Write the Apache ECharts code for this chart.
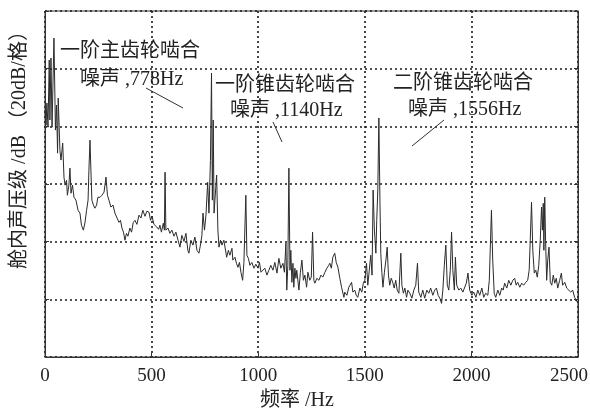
<!DOCTYPE html>
<html>
<head>
<meta charset="utf-8">
<script src="https://cdn.jsdelivr.net/npm/echarts@6/dist/echarts.min.js"></script>
<style>
html,body{margin:0;padding:0;background:#fff;}
#c{width:590px;height:411px;}
</style>
</head>
<body>
<div id="c"></div>
<script>
// Frequency (Hz) and cabin sound pressure level (dB, arbitrary offset, 20 dB per grid)
const freq = [0,5,9,14,20,23,28,33,42,49,54,59,62,70,75,83,89,94,101,105,112,117,122,129,136,145,155,164,171,180,188,195,202,206,211,216,220,227,234,242,248,258,267,277,286,293,300,309,319,328,338,347,354,361,368,375,382,389,398,406,414,422,431,441,450,459,469,478,488,495,502,511,524,533,539,546,555,560,563,567,577,586,595,605,614,624,633,642,652,661,670,675,684,694,703,713,722,729,736,741,748,755,763,769,776,781,785,789,793,797,805,811,816,823,830,839,852,860,867,877,881,891,898,905,912,919,927,933,942,947,954,961,970,980,989,999,1006,1013,1022,1031,1041,1050,1059,1069,1078,1088,1097,1106,1116,1123,1130,1134,1139,1144,1149,1153,1158,1163,1167,1172,1177,1181,1191,1198,1205,1212,1219,1227,1233,1242,1249,1255,1261,1266,1275,1285,1294,1303,1313,1322,1331,1336,1343,1350,1359,1366,1374,1383,1391,1402,1406,1416,1425,1438,1444,1453,1460,1467,1477,1486,1493,1500,1508,1514,1521,1528,1534,1539,1545,1552,1556,1561,1566,1571,1575,1580,1585,1592,1599,1605,1611,1617,1624,1631,1638,1645,1652,1660,1664,1669,1674,1681,1688,1696,1702,1711,1721,1730,1739,1747,1753,1763,1772,1781,1791,1800,1809,1819,1828,1836,1844,1852,1860,1866,1873,1880,1887,1894,1901,1907,1913,1920,1925,1931,1941,1950,1960,1969,1976,1984,1992,2002,2011,2021,2030,2039,2049,2058,2067,2077,2084,2094,2100,2107,2114,2124,2133,2142,2149,2156,2166,2175,2185,2194,2203,2210,2217,2227,2236,2245,2255,2264,2271,2276,2282,2288,2295,2302,2309,2316,2323,2329,2333,2337,2340,2344,2348,2353,2358,2364,2370,2377,2384,2391,2398,2405,2414,2422,2428,2438,2447,2456,2466,2475,2484,2493,2500];
const level = [85.6,80.4,88.1,79.7,103.0,82.2,103.7,79.7,110.6,78.7,87.4,70.7,89.8,71.7,68.3,74.2,62.4,59.6,61.3,56.1,59.6,65.5,56.8,59.6,55.4,54.4,50.9,49.9,45.7,44.0,46.8,50.9,54.4,64.8,75.2,63.1,54.4,52.7,51.6,52.7,55.4,55.4,56.1,57.2,62.4,56.1,54.4,52.0,52.7,49.9,48.2,46.7,47.4,44.7,43.3,40.5,42.9,41.9,44.7,43.3,46.7,47.4,46.0,49.2,48.2,50.9,48.8,50.6,50.2,47.4,48.8,46.0,45.1,44.3,45.7,43.3,46.4,44.0,64.1,44.0,44.7,42.9,44.0,41.9,43.3,40.5,38.1,42.2,40.1,42.9,37.0,36.0,40.5,38.8,41.6,37.0,36.0,38.8,42.2,49.9,44.0,49.2,60.6,49.9,68.2,98.5,54.4,82.2,49.9,54.4,63.1,44.0,38.1,40.5,38.8,40.5,34.6,37.0,35.3,37.7,33.6,34.6,32.5,31.1,32.8,29.4,26.6,32.8,56.1,35.3,34.2,31.8,32.8,30.8,32.2,30.8,32.8,29.4,29.1,30.8,28.4,30.1,31.8,30.1,32.8,29.1,34.2,30.8,32.5,29.4,39.5,23.2,31.8,65.5,30.1,37.0,25.9,32.5,24.2,30.8,27.3,30.1,23.2,29.4,33.6,26.6,28.4,24.2,29.4,26.6,27.7,43.3,26.6,25.6,27.3,26.6,28.4,27.7,29.4,30.8,31.8,32.5,30.8,34.6,36.0,32.8,31.1,27.3,24.2,20.7,22.5,21.4,24.2,25.9,22.5,23.2,21.4,20.7,23.9,22.5,25.6,26.6,32.5,24.9,30.1,35.3,28.4,57.9,44.0,36.0,47.4,57.9,82.9,54.4,36.0,29.4,24.2,29.4,33.6,38.1,28.4,24.9,27.3,25.9,23.9,26.6,23.2,22.1,28.4,36.0,24.9,22.1,23.9,20.7,23.2,22.1,20.4,23.2,24.9,32.5,22.5,20.7,23.2,20.4,23.2,22.1,23.9,21.4,23.2,23.9,21.4,20.4,18.6,23.2,31.8,38.8,24.9,23.2,30.1,43.3,30.1,23.2,34.6,24.9,23.2,23.9,22.5,22.1,25.6,29.1,23.2,21.4,22.5,20.7,23.2,21.4,23.9,20.7,22.1,21.4,26.6,50.9,33.6,22.1,20.7,23.2,21.4,23.9,23.2,25.6,23.9,26.6,24.9,26.6,27.3,24.9,25.9,24.2,25.6,24.9,25.9,26.6,30.1,40.5,53.7,37.0,29.1,30.1,27.7,31.8,40.5,52.0,44.0,53.3,37.0,55.4,40.5,26.6,33.6,38.1,25.9,24.9,28.4,25.6,27.3,23.9,26.6,29.1,24.9,25.9,23.9,24.2,22.5,23.2,20.7,20.4,18.6];
const xTicks = [0, 500, 1000, 1500, 2000, 2500];
const yTitle = '舱内声压级 /dB （20dB/格）';
const xTitle = '频率 /Hz';
const notes = [
  ['一阶主齿轮啮合', '噪声 ,778Hz'],
  ['一阶锥齿轮啮合', '噪声 ,1140Hz'],
  ['二阶锥齿轮啮合', '噪声 ,1556Hz']
];

const FONT = '"Liberation Serif", "Noto Sans CJK SC", serif';
const ink = '#222';
const data = freq.map((f, i) => [f, level[i]]);

const chart = echarts.init(document.getElementById('c'), null, {renderer: 'canvas'});
const dotted = {show: true, lineStyle: {color: '#1a1a1a', type: [2, 3], width: 1.6}};

function txt(x, y, s, rot, align) {
  return {
    type: 'text', x: x, y: y, rotation: rot || 0, z: 10,
    style: {text: s, font: '20px ' + FONT, fill: ink,
      textAlign: align || 'left', textVerticalAlign: 'middle'}
  };
}
function seg(x1, y1, x2, y2) {
  return {type: 'line', z: 10, shape: {x1: x1, y1: y1, x2: x2, y2: y2},
    style: {stroke: '#333', lineWidth: 1}};
}

const lastTick = xTicks[xTicks.length - 1];

chart.setOption({
  backgroundColor: '#fff',
  animation: false,
  grid: {left: 45, right: 12, top: 11, bottom: 54, show: true, borderColor: '#333', borderWidth: 1,
    containLabel: false, outerBoundsMode: 'none'},
  xAxis: {
    type: 'value', min: 0, max: 2500, interval: 500,
    axisLine: {show: true, lineStyle: {color: '#333', width: 1}},
    axisTick: {show: true, inside: true, length: 4, lineStyle: {color: '#333'}},
    axisLabel: {margin: 10, fontSize: 19, fontFamily: FONT, color: ink,
      formatter: v => xTicks.indexOf(v) < 0 ? '' : (v === lastTick ? '{e|' + v + '}' : String(v)),
      rich: {e: {fontSize: 19, fontFamily: FONT, color: ink, padding: [0, 18, 0, 0]}}},
    splitLine: dotted
  },
  yAxis: [{
    type: 'value', min: 0, max: 120, interval: 20,
    axisLine: {show: true, lineStyle: {color: '#333', width: 1}},
    axisTick: {show: true, inside: true, length: 4, lineStyle: {color: '#333'}},
    axisLabel: {show: false},
    splitLine: dotted
  }, {
    type: 'value', min: 0, max: 120, interval: 20, position: 'right',
    axisLine: {show: true, lineStyle: {color: '#333', width: 1}},
    axisTick: {show: true, inside: true, length: 4, lineStyle: {color: '#333'}},
    axisLabel: {show: false},
    splitLine: {show: false}
  }],
  series: [{
    type: 'line', data: data, symbol: 'none', showSymbol: false,
    lineStyle: {color: '#2b2b2b', width: 1}, z: 3
  }],
  graphic: [
    txt(20, 145, yTitle, Math.PI / 2, 'center'),
    txt(297, 401, xTitle, 0, 'center'),
    txt(60, 52, notes[0][0]), txt(80, 80, notes[0][1]), seg(146, 88, 183, 108),
    txt(215, 86, notes[1][0]), txt(230, 111, notes[1][1]), seg(273, 122, 282, 142),
    txt(393, 84, notes[2][0]), txt(408, 110, notes[2][1]), seg(444, 120, 412, 146)
  ]
});
</script>
</body>
</html>
